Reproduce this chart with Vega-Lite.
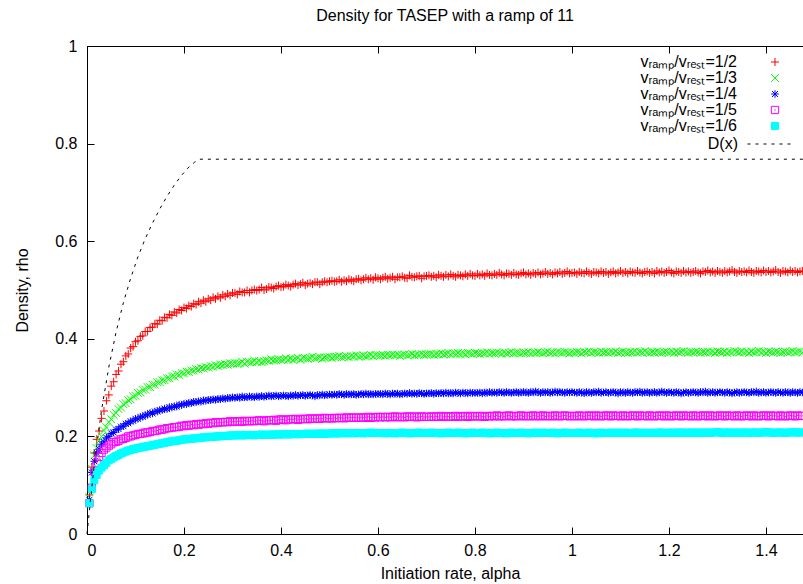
{
"$schema":"https://vega.github.io/schema/vega-lite/v6.json",
"width":716,"height":488,
"autosize":{"type":"none"},
"padding":{"left":87,"top":46,"right":0,"bottom":50},
"background":"white",
"title":{"text":"Density for TASEP with a ramp of 11","font":"Liberation Sans","fontSize":16,"fontWeight":"normal","color":"black","anchor":"middle","baseline":"alphabetic","offset":1},
"config":{
 "view":{"stroke":null},
 "axis":{"domainColor":"black","domainWidth":1,"tickColor":"black","tickWidth":1,"tickSize":-7,"grid":false,"labelFont":"Liberation Sans","labelFontSize":16,"labelColor":"black","titleFont":"Liberation Sans","titleFontSize":16,"titleFontWeight":"normal","titleColor":"black"},
 "axisX":{"labelPadding":15},
 "axisY":{"labelPadding":17},
 "legend":{"orient":"none","labelFont":"Liberation Sans","labelFontSize":16,"labelColor":"black","rowPadding":0,"padding":0}
},
"resolve":{"axis":{"x":"independent"}},
"layer":[
{
"data":{"values":[
{"a":0.005,"p":0.080,"q":0.075,"r":0.070,"s":0.063,"t":0.063},
{"a":0.01,"p":0.137,"q":0.134,"r":0.126,"s":0.095,"t":0.092},
{"a":0.015,"p":0.166,"q":0.161,"r":0.149,"s":0.128,"t":0.110},
{"a":0.02,"p":0.194,"q":0.176,"r":0.166,"s":0.146,"t":0.121},
{"a":0.025,"p":0.211,"q":0.191,"r":0.174,"s":0.158,"t":0.130},
{"a":0.03,"p":0.237,"q":0.200,"r":0.184,"s":0.166,"t":0.136},
{"a":0.035,"p":0.252,"q":0.212,"r":0.189,"s":0.173,"t":0.141},
{"a":0.04,"p":0.273,"q":0.219,"r":0.197,"s":0.177,"t":0.146},
{"a":0.045,"p":0.285,"q":0.229,"r":0.200,"s":0.181,"t":0.151},
{"a":0.05,"p":0.303,"q":0.235,"r":0.206,"s":0.184,"t":0.154},
{"a":0.055,"p":0.312,"q":0.244,"r":0.208,"s":0.188,"t":0.157},
{"a":0.06,"p":0.327,"q":0.248,"r":0.214,"s":0.189,"t":0.160},
{"a":0.065,"p":0.334,"q":0.256,"r":0.215,"s":0.191,"t":0.162},
{"a":0.07,"p":0.348,"q":0.259,"r":0.220,"s":0.194,"t":0.165},
{"a":0.075,"p":0.353,"q":0.266,"r":0.221,"s":0.195,"t":0.167},
{"a":0.08,"p":0.365,"q":0.268,"r":0.226,"s":0.197,"t":0.169},
{"a":0.085,"p":0.369,"q":0.274,"r":0.227,"s":0.200,"t":0.171},
{"a":0.09,"p":0.381,"q":0.276,"r":0.231,"s":0.200,"t":0.172},
{"a":0.095,"p":0.384,"q":0.282,"r":0.232,"s":0.202,"t":0.174},
{"a":0.1,"p":0.394,"q":0.283,"r":0.236,"s":0.203,"t":0.175},
{"a":0.105,"p":0.396,"q":0.289,"r":0.236,"s":0.205,"t":0.176},
{"a":0.11,"p":0.405,"q":0.290,"r":0.240,"s":0.205,"t":0.177},
{"a":0.115,"p":0.406,"q":0.295,"r":0.240,"s":0.206,"t":0.178},
{"a":0.12,"p":0.415,"q":0.296,"r":0.244,"s":0.208,"t":0.179},
{"a":0.125,"p":0.415,"q":0.301,"r":0.244,"s":0.208,"t":0.180},
{"a":0.13,"p":0.423,"q":0.301,"r":0.248,"s":0.209,"t":0.181},
{"a":0.135,"p":0.424,"q":0.306,"r":0.247,"s":0.211,"t":0.182},
{"a":0.14,"p":0.431,"q":0.306,"r":0.251,"s":0.211,"t":0.183},
{"a":0.145,"p":0.430,"q":0.311,"r":0.251,"s":0.212,"t":0.184},
{"a":0.15,"p":0.438,"q":0.311,"r":0.254,"s":0.214,"t":0.185},
{"a":0.155,"p":0.437,"q":0.315,"r":0.254,"s":0.214,"t":0.186},
{"a":0.16,"p":0.444,"q":0.315,"r":0.257,"s":0.215,"t":0.187},
{"a":0.165,"p":0.443,"q":0.319,"r":0.256,"s":0.217,"t":0.188},
{"a":0.17,"p":0.450,"q":0.319,"r":0.260,"s":0.217,"t":0.189},
{"a":0.175,"p":0.448,"q":0.323,"r":0.259,"s":0.218,"t":0.190},
{"a":0.18,"p":0.455,"q":0.323,"r":0.262,"s":0.219,"t":0.191},
{"a":0.185,"p":0.453,"q":0.327,"r":0.261,"s":0.219,"t":0.191},
{"a":0.19,"p":0.460,"q":0.326,"r":0.265,"s":0.220,"t":0.192},
{"a":0.195,"p":0.458,"q":0.330,"r":0.264,"s":0.222,"t":0.193},
{"a":0.2,"p":0.464,"q":0.329,"r":0.267,"s":0.221,"t":0.194},
{"a":0.205,"p":0.462,"q":0.333,"r":0.266,"s":0.223,"t":0.194},
{"a":0.21,"p":0.468,"q":0.332,"r":0.269,"s":0.222,"t":0.195},
{"a":0.215,"p":0.466,"q":0.335,"r":0.268,"s":0.224,"t":0.195},
{"a":0.22,"p":0.472,"q":0.335,"r":0.271,"s":0.223,"t":0.196},
{"a":0.225,"p":0.470,"q":0.338,"r":0.270,"s":0.225,"t":0.196},
{"a":0.23,"p":0.476,"q":0.337,"r":0.272,"s":0.224,"t":0.197},
{"a":0.235,"p":0.473,"q":0.340,"r":0.271,"s":0.226,"t":0.197},
{"a":0.24,"p":0.479,"q":0.339,"r":0.274,"s":0.225,"t":0.198},
{"a":0.245,"p":0.476,"q":0.342,"r":0.273,"s":0.227,"t":0.198},
{"a":0.25,"p":0.482,"q":0.341,"r":0.275,"s":0.226,"t":0.199},
{"a":0.255,"p":0.479,"q":0.344,"r":0.274,"s":0.228,"t":0.199},
{"a":0.26,"p":0.485,"q":0.343,"r":0.276,"s":0.227,"t":0.199},
{"a":0.265,"p":0.482,"q":0.346,"r":0.275,"s":0.229,"t":0.200},
{"a":0.27,"p":0.487,"q":0.344,"r":0.277,"s":0.228,"t":0.200},
{"a":0.275,"p":0.484,"q":0.347,"r":0.276,"s":0.229,"t":0.200},
{"a":0.28,"p":0.490,"q":0.346,"r":0.278,"s":0.229,"t":0.201},
{"a":0.285,"p":0.487,"q":0.348,"r":0.277,"s":0.230,"t":0.201},
{"a":0.29,"p":0.492,"q":0.347,"r":0.279,"s":0.229,"t":0.201},
{"a":0.295,"p":0.489,"q":0.350,"r":0.278,"s":0.231,"t":0.202},
{"a":0.3,"p":0.494,"q":0.349,"r":0.280,"s":0.230,"t":0.202},
{"a":0.305,"p":0.494,"q":0.350,"r":0.279,"s":0.230,"t":0.202},
{"a":0.31,"p":0.491,"q":0.349,"r":0.280,"s":0.231,"t":0.202},
{"a":0.315,"p":0.497,"q":0.350,"r":0.279,"s":0.231,"t":0.203},
{"a":0.32,"p":0.495,"q":0.353,"r":0.282,"s":0.230,"t":0.202},
{"a":0.325,"p":0.495,"q":0.349,"r":0.280,"s":0.232,"t":0.202},
{"a":0.33,"p":0.499,"q":0.353,"r":0.280,"s":0.231,"t":0.203},
{"a":0.335,"p":0.495,"q":0.352,"r":0.282,"s":0.231,"t":0.203},
{"a":0.34,"p":0.499,"q":0.352,"r":0.281,"s":0.232,"t":0.203},
{"a":0.345,"p":0.501,"q":0.355,"r":0.280,"s":0.231,"t":0.202},
{"a":0.35,"p":0.499,"q":0.352,"r":0.282,"s":0.232,"t":0.203},
{"a":0.355,"p":0.501,"q":0.354,"r":0.281,"s":0.233,"t":0.203},
{"a":0.36,"p":0.505,"q":0.352,"r":0.283,"s":0.232,"t":0.204},
{"a":0.365,"p":0.500,"q":0.354,"r":0.281,"s":0.231,"t":0.203},
{"a":0.37,"p":0.502,"q":0.356,"r":0.282,"s":0.233,"t":0.203},
{"a":0.375,"p":0.506,"q":0.355,"r":0.284,"s":0.233,"t":0.204},
{"a":0.38,"p":0.505,"q":0.358,"r":0.282,"s":0.233,"t":0.203},
{"a":0.385,"p":0.503,"q":0.356,"r":0.283,"s":0.234,"t":0.204},
{"a":0.39,"p":0.507,"q":0.356,"r":0.284,"s":0.232,"t":0.204},
{"a":0.395,"p":0.509,"q":0.358,"r":0.282,"s":0.234,"t":0.204},
{"a":0.4,"p":0.506,"q":0.357,"r":0.283,"s":0.235,"t":0.204},
{"a":0.405,"p":0.507,"q":0.357,"r":0.284,"s":0.234,"t":0.204},
{"a":0.41,"p":0.511,"q":0.360,"r":0.283,"s":0.233,"t":0.205},
{"a":0.415,"p":0.509,"q":0.357,"r":0.282,"s":0.235,"t":0.204},
{"a":0.42,"p":0.507,"q":0.359,"r":0.284,"s":0.235,"t":0.204},
{"a":0.425,"p":0.511,"q":0.357,"r":0.283,"s":0.235,"t":0.205},
{"a":0.43,"p":0.513,"q":0.359,"r":0.285,"s":0.236,"t":0.205},
{"a":0.435,"p":0.510,"q":0.361,"r":0.283,"s":0.234,"t":0.204},
{"a":0.44,"p":0.512,"q":0.357,"r":0.284,"s":0.235,"t":0.205},
{"a":0.445,"p":0.515,"q":0.360,"r":0.285,"s":0.236,"t":0.205},
{"a":0.45,"p":0.510,"q":0.360,"r":0.283,"s":0.236,"t":0.205},
{"a":0.455,"p":0.513,"q":0.359,"r":0.284,"s":0.235,"t":0.206},
{"a":0.46,"p":0.514,"q":0.361,"r":0.285,"s":0.237,"t":0.205},
{"a":0.465,"p":0.512,"q":0.363,"r":0.284,"s":0.236,"t":0.205},
{"a":0.47,"p":0.516,"q":0.360,"r":0.282,"s":0.236,"t":0.206},
{"a":0.475,"p":0.516,"q":0.361,"r":0.285,"s":0.237,"t":0.205},
{"a":0.48,"p":0.512,"q":0.362,"r":0.284,"s":0.236,"t":0.206},
{"a":0.485,"p":0.516,"q":0.359,"r":0.286,"s":0.237,"t":0.206},
{"a":0.49,"p":0.518,"q":0.362,"r":0.284,"s":0.238,"t":0.205},
{"a":0.495,"p":0.516,"q":0.362,"r":0.285,"s":0.237,"t":0.206},
{"a":0.5,"p":0.518,"q":0.363,"r":0.286,"s":0.237,"t":0.206},
{"a":0.505,"p":0.519,"q":0.361,"r":0.285,"s":0.237,"t":0.206},
{"a":0.51,"p":0.517,"q":0.363,"r":0.286,"s":0.238,"t":0.207},
{"a":0.515,"p":0.518,"q":0.363,"r":0.285,"s":0.237,"t":0.206},
{"a":0.52,"p":0.521,"q":0.365,"r":0.287,"s":0.238,"t":0.206},
{"a":0.525,"p":0.517,"q":0.362,"r":0.286,"s":0.238,"t":0.207},
{"a":0.53,"p":0.520,"q":0.363,"r":0.285,"s":0.237,"t":0.207},
{"a":0.535,"p":0.518,"q":0.364,"r":0.287,"s":0.239,"t":0.206},
{"a":0.54,"p":0.522,"q":0.362,"r":0.286,"s":0.238,"t":0.207},
{"a":0.545,"p":0.520,"q":0.365,"r":0.286,"s":0.238,"t":0.207},
{"a":0.55,"p":0.518,"q":0.364,"r":0.287,"s":0.239,"t":0.206},
{"a":0.555,"p":0.522,"q":0.366,"r":0.285,"s":0.238,"t":0.207},
{"a":0.56,"p":0.523,"q":0.363,"r":0.286,"s":0.238,"t":0.207},
{"a":0.565,"p":0.520,"q":0.364,"r":0.287,"s":0.239,"t":0.207},
{"a":0.57,"p":0.522,"q":0.366,"r":0.286,"s":0.238,"t":0.206},
{"a":0.575,"p":0.525,"q":0.364,"r":0.288,"s":0.239,"t":0.207},
{"a":0.58,"p":0.522,"q":0.365,"r":0.286,"s":0.240,"t":0.207},
{"a":0.585,"p":0.524,"q":0.367,"r":0.287,"s":0.238,"t":0.208},
{"a":0.59,"p":0.521,"q":0.364,"r":0.286,"s":0.239,"t":0.207},
{"a":0.595,"p":0.526,"q":0.367,"r":0.287,"s":0.239,"t":0.207},
{"a":0.6,"p":0.524,"q":0.366,"r":0.287,"s":0.240,"t":0.207},
{"a":0.605,"p":0.522,"q":0.366,"r":0.287,"s":0.239,"t":0.207},
{"a":0.61,"p":0.525,"q":0.367,"r":0.286,"s":0.240,"t":0.207},
{"a":0.615,"p":0.527,"q":0.365,"r":0.288,"s":0.239,"t":0.206},
{"a":0.62,"p":0.523,"q":0.367,"r":0.287,"s":0.240,"t":0.207},
{"a":0.625,"p":0.525,"q":0.366,"r":0.286,"s":0.239,"t":0.207},
{"a":0.63,"p":0.527,"q":0.368,"r":0.288,"s":0.240,"t":0.207},
{"a":0.635,"p":0.522,"q":0.366,"r":0.287,"s":0.241,"t":0.206},
{"a":0.64,"p":0.526,"q":0.367,"r":0.288,"s":0.239,"t":0.207},
{"a":0.645,"p":0.526,"q":0.365,"r":0.286,"s":0.240,"t":0.207},
{"a":0.65,"p":0.528,"q":0.367,"r":0.287,"s":0.240,"t":0.208},
{"a":0.655,"p":0.525,"q":0.368,"r":0.288,"s":0.239,"t":0.207},
{"a":0.66,"p":0.524,"q":0.366,"r":0.287,"s":0.241,"t":0.207},
{"a":0.665,"p":0.530,"q":0.367,"r":0.289,"s":0.240,"t":0.206},
{"a":0.67,"p":0.527,"q":0.369,"r":0.287,"s":0.240,"t":0.207},
{"a":0.675,"p":0.526,"q":0.366,"r":0.288,"s":0.241,"t":0.207},
{"a":0.68,"p":0.528,"q":0.368,"r":0.287,"s":0.239,"t":0.207},
{"a":0.685,"p":0.529,"q":0.367,"r":0.289,"s":0.240,"t":0.208},
{"a":0.69,"p":0.524,"q":0.369,"r":0.288,"s":0.241,"t":0.207},
{"a":0.695,"p":0.528,"q":0.367,"r":0.287,"s":0.240,"t":0.207},
{"a":0.7,"p":0.529,"q":0.368,"r":0.288,"s":0.240,"t":0.207},
{"a":0.705,"p":0.530,"q":0.368,"r":0.288,"s":0.240,"t":0.207},
{"a":0.71,"p":0.527,"q":0.369,"r":0.289,"s":0.241,"t":0.208},
{"a":0.715,"p":0.529,"q":0.367,"r":0.287,"s":0.240,"t":0.207},
{"a":0.72,"p":0.526,"q":0.369,"r":0.289,"s":0.241,"t":0.207},
{"a":0.725,"p":0.531,"q":0.368,"r":0.288,"s":0.240,"t":0.207},
{"a":0.73,"p":0.529,"q":0.370,"r":0.289,"s":0.242,"t":0.206},
{"a":0.735,"p":0.527,"q":0.368,"r":0.288,"s":0.240,"t":0.207},
{"a":0.74,"p":0.531,"q":0.369,"r":0.290,"s":0.241,"t":0.207},
{"a":0.745,"p":0.528,"q":0.371,"r":0.288,"s":0.241,"t":0.208},
{"a":0.75,"p":0.532,"q":0.368,"r":0.289,"s":0.240,"t":0.207},
{"a":0.755,"p":0.529,"q":0.370,"r":0.288,"s":0.241,"t":0.207},
{"a":0.76,"p":0.527,"q":0.369,"r":0.290,"s":0.242,"t":0.207},
{"a":0.765,"p":0.531,"q":0.371,"r":0.289,"s":0.240,"t":0.208},
{"a":0.77,"p":0.530,"q":0.369,"r":0.288,"s":0.241,"t":0.207},
{"a":0.775,"p":0.528,"q":0.370,"r":0.290,"s":0.241,"t":0.207},
{"a":0.78,"p":0.532,"q":0.368,"r":0.289,"s":0.242,"t":0.206},
{"a":0.785,"p":0.529,"q":0.371,"r":0.288,"s":0.240,"t":0.207},
{"a":0.79,"p":0.533,"q":0.370,"r":0.290,"s":0.241,"t":0.207},
{"a":0.795,"p":0.530,"q":0.369,"r":0.289,"s":0.242,"t":0.208},
{"a":0.8,"p":0.529,"q":0.371,"r":0.289,"s":0.241,"t":0.207},
{"a":0.805,"p":0.533,"q":0.370,"r":0.289,"s":0.241,"t":0.207},
{"a":0.81,"p":0.530,"q":0.369,"r":0.290,"s":0.242,"t":0.207},
{"a":0.815,"p":0.532,"q":0.371,"r":0.288,"s":0.241,"t":0.208},
{"a":0.82,"p":0.529,"q":0.370,"r":0.290,"s":0.240,"t":0.207},
{"a":0.825,"p":0.534,"q":0.372,"r":0.289,"s":0.242,"t":0.207},
{"a":0.83,"p":0.531,"q":0.369,"r":0.291,"s":0.241,"t":0.206},
{"a":0.835,"p":0.530,"q":0.371,"r":0.289,"s":0.242,"t":0.207},
{"a":0.84,"p":0.533,"q":0.370,"r":0.290,"s":0.241,"t":0.207},
{"a":0.845,"p":0.531,"q":0.372,"r":0.289,"s":0.243,"t":0.208},
{"a":0.85,"p":0.535,"q":0.371,"r":0.291,"s":0.241,"t":0.207},
{"a":0.855,"p":0.532,"q":0.369,"r":0.290,"s":0.242,"t":0.207},
{"a":0.86,"p":0.530,"q":0.372,"r":0.289,"s":0.241,"t":0.207},
{"a":0.865,"p":0.534,"q":0.370,"r":0.291,"s":0.242,"t":0.206},
{"a":0.87,"p":0.533,"q":0.371,"r":0.290,"s":0.243,"t":0.207},
{"a":0.875,"p":0.531,"q":0.373,"r":0.289,"s":0.241,"t":0.208},
{"a":0.88,"p":0.535,"q":0.370,"r":0.290,"s":0.242,"t":0.207},
{"a":0.885,"p":0.532,"q":0.372,"r":0.291,"s":0.241,"t":0.207},
{"a":0.89,"p":0.531,"q":0.371,"r":0.289,"s":0.242,"t":0.207},
{"a":0.895,"p":0.534,"q":0.370,"r":0.290,"s":0.243,"t":0.208},
{"a":0.9,"p":0.536,"q":0.372,"r":0.291,"s":0.241,"t":0.207},
{"a":0.905,"p":0.532,"q":0.371,"r":0.290,"s":0.242,"t":0.207},
{"a":0.91,"p":0.534,"q":0.373,"r":0.289,"s":0.242,"t":0.206},
{"a":0.915,"p":0.531,"q":0.370,"r":0.291,"s":0.241,"t":0.207},
{"a":0.92,"p":0.535,"q":0.372,"r":0.290,"s":0.243,"t":0.207},
{"a":0.925,"p":0.533,"q":0.371,"r":0.292,"s":0.242,"t":0.208},
{"a":0.93,"p":0.536,"q":0.373,"r":0.290,"s":0.241,"t":0.207},
{"a":0.935,"p":0.532,"q":0.371,"r":0.289,"s":0.242,"t":0.207},
{"a":0.94,"p":0.534,"q":0.370,"r":0.291,"s":0.243,"t":0.208},
{"a":0.945,"p":0.537,"q":0.372,"r":0.290,"s":0.241,"t":0.207},
{"a":0.95,"p":0.533,"q":0.374,"r":0.291,"s":0.242,"t":0.207},
{"a":0.955,"p":0.535,"q":0.371,"r":0.289,"s":0.242,"t":0.207},
{"a":0.96,"p":0.532,"q":0.372,"r":0.290,"s":0.241,"t":0.208},
{"a":0.965,"p":0.536,"q":0.370,"r":0.292,"s":0.243,"t":0.207},
{"a":0.97,"p":0.534,"q":0.373,"r":0.290,"s":0.242,"t":0.206},
{"a":0.975,"p":0.537,"q":0.372,"r":0.291,"s":0.241,"t":0.207},
{"a":0.98,"p":0.533,"q":0.371,"r":0.290,"s":0.242,"t":0.207},
{"a":0.985,"p":0.535,"q":0.373,"r":0.289,"s":0.243,"t":0.208},
{"a":0.99,"p":0.538,"q":0.372,"r":0.291,"s":0.242,"t":0.207},
{"a":0.995,"p":0.534,"q":0.370,"r":0.290,"s":0.241,"t":0.207},
{"a":1,"p":0.535,"q":0.372,"r":0.291,"s":0.242,"t":0.207},
{"a":1.005,"p":0.536,"q":0.371,"r":0.290,"s":0.242,"t":0.207},
{"a":1.01,"p":0.533,"q":0.373,"r":0.289,"s":0.241,"t":0.207},
{"a":1.015,"p":0.537,"q":0.372,"r":0.291,"s":0.243,"t":0.208},
{"a":1.02,"p":0.535,"q":0.370,"r":0.290,"s":0.242,"t":0.207},
{"a":1.025,"p":0.534,"q":0.373,"r":0.288,"s":0.241,"t":0.207},
{"a":1.03,"p":0.538,"q":0.372,"r":0.291,"s":0.242,"t":0.207},
{"a":1.035,"p":0.535,"q":0.374,"r":0.290,"s":0.243,"t":0.208},
{"a":1.04,"p":0.533,"q":0.371,"r":0.289,"s":0.242,"t":0.207},
{"a":1.045,"p":0.537,"q":0.373,"r":0.291,"s":0.241,"t":0.207},
{"a":1.05,"p":0.536,"q":0.372,"r":0.290,"s":0.243,"t":0.206},
{"a":1.055,"p":0.534,"q":0.371,"r":0.292,"s":0.242,"t":0.207},
{"a":1.06,"p":0.538,"q":0.374,"r":0.289,"s":0.241,"t":0.208},
{"a":1.065,"p":0.535,"q":0.372,"r":0.290,"s":0.242,"t":0.207},
{"a":1.07,"p":0.537,"q":0.373,"r":0.291,"s":0.243,"t":0.207},
{"a":1.075,"p":0.533,"q":0.371,"r":0.289,"s":0.242,"t":0.207},
{"a":1.08,"p":0.536,"q":0.373,"r":0.290,"s":0.241,"t":0.208},
{"a":1.085,"p":0.538,"q":0.372,"r":0.291,"s":0.243,"t":0.207},
{"a":1.09,"p":0.534,"q":0.374,"r":0.290,"s":0.242,"t":0.207},
{"a":1.095,"p":0.536,"q":0.371,"r":0.288,"s":0.242,"t":0.208},
{"a":1.1,"p":0.539,"q":0.372,"r":0.291,"s":0.241,"t":0.207},
{"a":1.105,"p":0.535,"q":0.374,"r":0.290,"s":0.243,"t":0.207},
{"a":1.11,"p":0.537,"q":0.372,"r":0.289,"s":0.242,"t":0.208},
{"a":1.115,"p":0.534,"q":0.371,"r":0.291,"s":0.241,"t":0.207},
{"a":1.12,"p":0.538,"q":0.373,"r":0.290,"s":0.242,"t":0.207},
{"a":1.125,"p":0.536,"q":0.372,"r":0.289,"s":0.243,"t":0.207},
{"a":1.13,"p":0.535,"q":0.374,"r":0.291,"s":0.242,"t":0.208},
{"a":1.135,"p":0.539,"q":0.371,"r":0.290,"s":0.241,"t":0.208},
{"a":1.14,"p":0.536,"q":0.373,"r":0.292,"s":0.243,"t":0.207},
{"a":1.145,"p":0.534,"q":0.372,"r":0.289,"s":0.242,"t":0.207},
{"a":1.15,"p":0.537,"q":0.375,"r":0.290,"s":0.242,"t":0.208},
{"a":1.155,"p":0.538,"q":0.372,"r":0.291,"s":0.241,"t":0.207},
{"a":1.16,"p":0.535,"q":0.371,"r":0.289,"s":0.243,"t":0.207},
{"a":1.165,"p":0.537,"q":0.373,"r":0.290,"s":0.242,"t":0.208},
{"a":1.17,"p":0.534,"q":0.372,"r":0.291,"s":0.241,"t":0.207},
{"a":1.175,"p":0.539,"q":0.374,"r":0.289,"s":0.242,"t":0.207},
{"a":1.18,"p":0.536,"q":0.372,"r":0.290,"s":0.243,"t":0.208},
{"a":1.185,"p":0.538,"q":0.371,"r":0.292,"s":0.242,"t":0.208},
{"a":1.19,"p":0.535,"q":0.373,"r":0.290,"s":0.241,"t":0.207},
{"a":1.195,"p":0.537,"q":0.374,"r":0.289,"s":0.243,"t":0.207},
{"a":1.2,"p":0.540,"q":0.372,"r":0.291,"s":0.242,"t":0.208},
{"a":1.205,"p":0.536,"q":0.373,"r":0.290,"s":0.241,"t":0.207},
{"a":1.21,"p":0.534,"q":0.371,"r":0.289,"s":0.242,"t":0.208},
{"a":1.215,"p":0.538,"q":0.374,"r":0.291,"s":0.243,"t":0.207},
{"a":1.22,"p":0.537,"q":0.372,"r":0.290,"s":0.242,"t":0.208},
{"a":1.225,"p":0.535,"q":0.373,"r":0.288,"s":0.241,"t":0.208},
{"a":1.23,"p":0.539,"q":0.375,"r":0.290,"s":0.243,"t":0.207},
{"a":1.235,"p":0.536,"q":0.372,"r":0.291,"s":0.242,"t":0.208},
{"a":1.24,"p":0.538,"q":0.371,"r":0.289,"s":0.242,"t":0.207},
{"a":1.245,"p":0.535,"q":0.373,"r":0.290,"s":0.241,"t":0.208},
{"a":1.25,"p":0.537,"q":0.372,"r":0.291,"s":0.243,"t":0.208},
{"a":1.255,"p":0.539,"q":0.374,"r":0.290,"s":0.242,"t":0.207},
{"a":1.26,"p":0.536,"q":0.373,"r":0.289,"s":0.241,"t":0.208},
{"a":1.265,"p":0.534,"q":0.371,"r":0.291,"s":0.242,"t":0.208},
{"a":1.27,"p":0.538,"q":0.373,"r":0.290,"s":0.243,"t":0.207},
{"a":1.275,"p":0.537,"q":0.372,"r":0.292,"s":0.242,"t":0.208},
{"a":1.28,"p":0.540,"q":0.374,"r":0.289,"s":0.241,"t":0.208},
{"a":1.285,"p":0.536,"q":0.372,"r":0.290,"s":0.243,"t":0.207},
{"a":1.29,"p":0.538,"q":0.373,"r":0.291,"s":0.242,"t":0.208},
{"a":1.295,"p":0.535,"q":0.371,"r":0.289,"s":0.241,"t":0.208},
{"a":1.3,"p":0.539,"q":0.374,"r":0.290,"s":0.242,"t":0.209},
{"a":1.305,"p":0.537,"q":0.373,"r":0.291,"s":0.243,"t":0.208},
{"a":1.31,"p":0.535,"q":0.372,"r":0.290,"s":0.242,"t":0.207},
{"a":1.315,"p":0.539,"q":0.374,"r":0.289,"s":0.241,"t":0.208},
{"a":1.32,"p":0.536,"q":0.371,"r":0.291,"s":0.243,"t":0.208},
{"a":1.325,"p":0.538,"q":0.373,"r":0.290,"s":0.242,"t":0.208},
{"a":1.33,"p":0.541,"q":0.372,"r":0.288,"s":0.242,"t":0.207},
{"a":1.335,"p":0.537,"q":0.375,"r":0.290,"s":0.241,"t":0.208},
{"a":1.34,"p":0.535,"q":0.373,"r":0.291,"s":0.243,"t":0.208},
{"a":1.345,"p":0.539,"q":0.372,"r":0.289,"s":0.242,"t":0.207},
{"a":1.35,"p":0.537,"q":0.374,"r":0.290,"s":0.241,"t":0.208},
{"a":1.355,"p":0.538,"q":0.372,"r":0.291,"s":0.242,"t":0.208},
{"a":1.36,"p":0.536,"q":0.373,"r":0.290,"s":0.243,"t":0.208},
{"a":1.365,"p":0.540,"q":0.371,"r":0.289,"s":0.242,"t":0.207},
{"a":1.37,"p":0.537,"q":0.374,"r":0.291,"s":0.241,"t":0.208},
{"a":1.375,"p":0.535,"q":0.372,"r":0.290,"s":0.243,"t":0.208},
{"a":1.38,"p":0.539,"q":0.373,"r":0.292,"s":0.242,"t":0.208},
{"a":1.385,"p":0.538,"q":0.375,"r":0.289,"s":0.241,"t":0.207},
{"a":1.39,"p":0.536,"q":0.372,"r":0.290,"s":0.242,"t":0.208},
{"a":1.395,"p":0.540,"q":0.373,"r":0.291,"s":0.243,"t":0.208},
{"a":1.4,"p":0.537,"q":0.371,"r":0.289,"s":0.242,"t":0.209},
{"a":1.405,"p":0.539,"q":0.374,"r":0.290,"s":0.241,"t":0.208},
{"a":1.41,"p":0.536,"q":0.373,"r":0.291,"s":0.243,"t":0.208},
{"a":1.415,"p":0.538,"q":0.372,"r":0.290,"s":0.242,"t":0.207},
{"a":1.42,"p":0.541,"q":0.374,"r":0.289,"s":0.242,"t":0.208},
{"a":1.425,"p":0.537,"q":0.373,"r":0.291,"s":0.241,"t":0.208},
{"a":1.43,"p":0.535,"q":0.371,"r":0.290,"s":0.243,"t":0.208},
{"a":1.435,"p":0.539,"q":0.373,"r":0.289,"s":0.242,"t":0.208},
{"a":1.44,"p":0.538,"q":0.374,"r":0.291,"s":0.241,"t":0.207},
{"a":1.445,"p":0.536,"q":0.372,"r":0.290,"s":0.242,"t":0.208},
{"a":1.45,"p":0.540,"q":0.373,"r":0.289,"s":0.243,"t":0.208},
{"a":1.455,"p":0.537,"q":0.375,"r":0.291,"s":0.242,"t":0.209},
{"a":1.46,"p":0.539,"q":0.372,"r":0.290,"s":0.241,"t":0.208},
{"a":1.465,"p":0.536,"q":0.373,"r":0.289,"s":0.243,"t":0.208},
{"a":1.47,"p":0.538,"q":0.374,"r":0.291,"s":0.242,"t":0.208},
{"a":1.475,"p":0.539,"q":0.372,"r":0.290,"s":0.242,"t":0.208}
]},
"transform":[{"fold":["p","q","r","s","t"],"as":["k","rho"]}],
"mark":{"type":"point","filled":false,"strokeWidth":1,"opacity":1},
"encoding":{
 "x":{"field":"a","type":"quantitative","scale":{"domain":[0,1.4763],"nice":false,"zero":false},"axis":{"title":"Initiation rate, alpha","values":[0,0.2,0.4,0.6,0.8,1,1.2,1.4],"format":"~g","titleX":363,"titleY":39,"titleBaseline":"middle"}},
 "y":{"field":"rho","type":"quantitative","scale":{"domain":[0,1],"nice":false},"axis":{"title":"Density, rho","values":[0,0.2,0.4,0.6,0.8,1],"format":"~g","titleX":-65,"titleY":244,"titleBaseline":"middle","titleAngle":-90}},
 "stroke":{"field":"k","type":"nominal","scale":{"domain":["p","q","r","s","t"],"range":["#ff0000","#00ff00","#0000ff","#ff00ff","#00ffff"]},"legend":{"title":null,"orient":"none","legendX":680,"legendY":8,"labelAlign":"right","labelOffset":-46,"symbolStrokeWidth":1,"labelExpr":"datum.label=='p'?'vᵣₐₘₚ/vᵣₑₛₜ=1/2':datum.label=='q'?'vᵣₐₘₚ/vᵣₑₛₜ=1/3':datum.label=='r'?'vᵣₐₘₚ/vᵣₑₛₜ=1/4':datum.label=='s'?'vᵣₐₘₚ/vᵣₑₛₜ=1/5':'vᵣₐₘₚ/vᵣₑₛₜ=1/6'"}},
 "fill":{"field":"k","type":"nominal","scale":{"domain":["p","q","r","s","t"],"range":["transparent","transparent","transparent","transparent","#00ffff"]}},
 "shape":{"field":"k","type":"nominal","scale":{"domain":["p","q","r","s","t"],"range":["M-1,0H1M0,-1V1","M-1,-1L1,1M-1,1L1,-1","M-1,0H1M0,-1V1M-0.8,-0.8L0.8,0.8M-0.8,0.8L0.8,-0.8","M-1,-1H1V1H-1ZM-0.2,0H0.2","square"]}},
 "size":{"field":"k","type":"nominal","scale":{"domain":["p","q","r","s","t"],"range":[64,49,49,64,64]}},
 "order":{"field":"k"}
}
},
{
"data":{"values":[
{"a":0,"rho":0},
{"a":0.015,"rho":0.143},
{"a":0.03,"rho":0.254},
{"a":0.045,"rho":0.342},
{"a":0.06,"rho":0.414},
{"a":0.075,"rho":0.474},
{"a":0.09,"rho":0.524},
{"a":0.105,"rho":0.568},
{"a":0.12,"rho":0.605},
{"a":0.135,"rho":0.637},
{"a":0.15,"rho":0.666},
{"a":0.165,"rho":0.692},
{"a":0.18,"rho":0.715},
{"a":0.195,"rho":0.735},
{"a":0.21,"rho":0.752},
{"a":0.222,"rho":0.762},
{"a":0.232,"rho":0.768},
{"a":1.4763,"rho":0.768}
]},
"mark":{"type":"line","color":"black","strokeWidth":1},
"encoding":{
 "x":{"field":"a","type":"quantitative","axis":{"orient":"top","labels":false,"title":null,"values":[0,0.2,0.4,0.6,0.8,1,1.2,1.4]}},
 "y":{"field":"rho","type":"quantitative"},
 "strokeDash":{"datum":"D(x)","scale":{"domain":["D(x)"],"range":[[3,5]]},"legend":{"title":null,"orient":"none","legendX":660,"legendY":76,"symbolType":"stroke","symbolSize":1849,"symbolStrokeColor":"black","symbolStrokeWidth":1,"labelAlign":"right","labelOffset":-53}}
}
}
]
}
